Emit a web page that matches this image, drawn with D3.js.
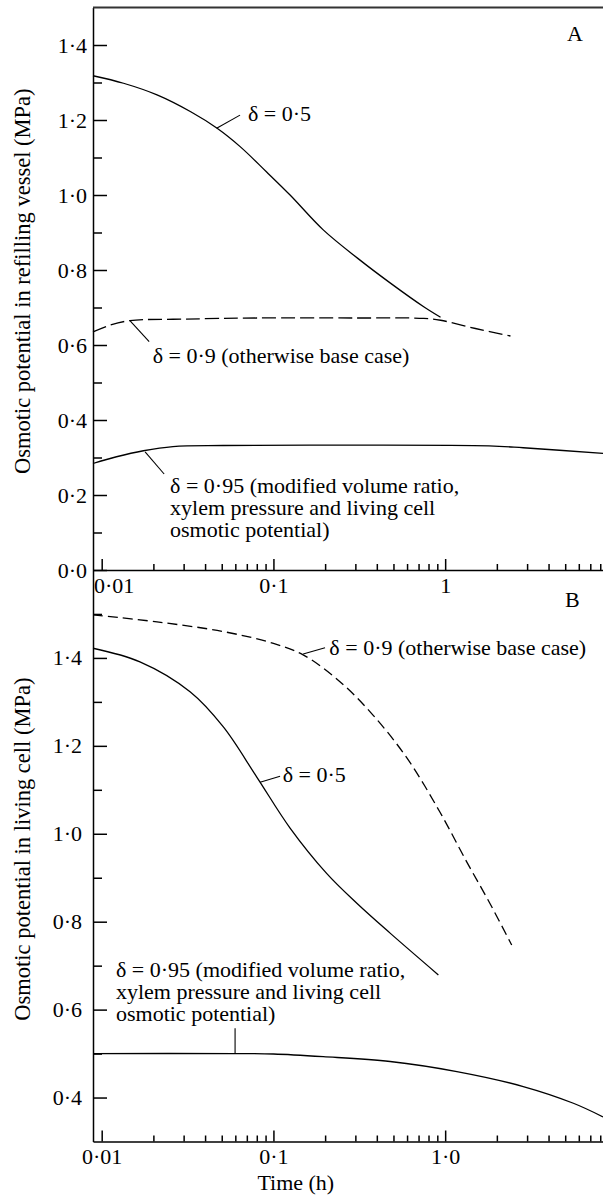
<!DOCTYPE html>
<html>
<head>
  <title>Osmotic potential vs time</title>
  <script src="https://d3js.org/d3.v7.min.js"></script>
  <style>
    body { margin: 0; background: #fff; }
    svg text { font-family: "Liberation Serif", Tinos, "Times New Roman", Times, "DejaVu Serif", serif !important; }
    .curve { fill: none; stroke: #000; stroke-width: 1.3px; }
    .lead { stroke: #000; stroke-width: 1.1px; }
    .axis text { font-size: 22px; fill: #000; }
    .axis line, .axis path { stroke: #000; stroke-width: 1.5px; }
    .note { font-size: 22px; fill: #000; }
    .title { font-size: 22.5px; fill: #000; }
  </style>
</head>
<body>
  <svg width="603" height="1199"></svg>

  <script>
    // panel A : osmotic potential in refilling vessel (MPa)
    const timeA05 = [0.0089, 0.0134, 0.021, 0.033, 0.047, 0.064, 0.091, 0.125, 0.195, 0.31, 0.48, 0.75, 0.94];
    const osmA05  = [1.318, 1.298, 1.267, 1.222, 1.178, 1.129, 1.062, 1.000, 0.907, 0.831, 0.765, 0.702, 0.674];
    const timeA09 = [0.0089, 0.0112, 0.0146, 0.03, 0.08, 0.3, 0.75, 0.94, 1.5, 2.4];
    const osmA09  = [0.635, 0.653, 0.665, 0.669, 0.672, 0.672, 0.671, 0.666, 0.644, 0.624];
    const timeA095 = [0.0089, 0.0122, 0.0175, 0.026, 0.051, 0.3, 1.8, 2.85, 8.3];
    const osmA095  = [0.284, 0.302, 0.318, 0.329, 0.332, 0.333, 0.331, 0.326, 0.311];

    // panel B : osmotic potential in living cell (MPa)
    const timeB09 = [0.0089, 0.021, 0.051, 0.1, 0.149, 0.244, 0.38, 0.6, 0.93, 1.34, 1.82, 2.44];
    const osmB09  = [1.498, 1.482, 1.460, 1.433, 1.407, 1.346, 1.270, 1.172, 1.050, 0.935, 0.842, 0.747];
    const timeB05 = [0.0089, 0.0167, 0.0327, 0.0511, 0.080, 0.125, 0.204, 0.306, 0.478, 0.913];
    const osmB05  = [1.422, 1.391, 1.323, 1.243, 1.129, 1.013, 0.910, 0.842, 0.774, 0.679];
    const timeB095 = [0.0089, 0.06, 0.1, 0.195, 0.478, 1.17, 2.85, 5.58, 8.3];
    const osmB095  = [0.500, 0.500, 0.499, 0.493, 0.482, 0.459, 0.425, 0.387, 0.356];

    // ticks
    const xMajor = [0.01, 0.1, 1];
    const xMinor = [0.02, 0.03, 0.04, 0.05, 0.06, 0.07, 0.08, 0.09,
                    0.2, 0.3, 0.4, 0.5, 0.6, 0.7, 0.8, 0.9,
                    2, 3, 4, 5, 6, 7, 8];
    const xLabelsA = ["0·01", "0·1", "1"];
    const xLabelsB = ["0·01", "0·1", "1·0"];
    const yMajorA = [0, 0.2, 0.4, 0.6, 0.8, 1.0, 1.2, 1.4];
    const yMinorA = [0.1, 0.3, 0.5, 0.7, 0.9, 1.1, 1.3];
    const yMajorB = [0.4, 0.6, 0.8, 1.0, 1.2, 1.4];
    const yMinorB = [0.5, 0.7, 0.9, 1.1, 1.3, 1.5];

    const svg = d3.select("svg");
    const left = 93, right = 603;

    const x = d3.scaleLog().domain([0.0089, 8.3]).range([left, right]);
    const yA = d3.scaleLinear().domain([0, 1.5]).range([570, 7.5]);
    const yB = d3.scaleLinear().domain([0.3, 1.6]).range([1141.5, 570]);

    const fmt = d => d.toFixed(1).replace(".", "·");
    const pairs = (t, v) => t.map((d, i) => [d, v[i]]);

    function panel(y, yMajor, yMinor, xLabels, pad) {
      const [y0] = y.range();
      svg.append("g").attr("class", "axis")
        .attr("transform", `translate(${left},0)`)
        .call(d3.axisLeft(y).tickValues(yMinor).tickSize(-9).tickFormat(""))
        .call(g => g.select(".domain").remove());
      svg.append("g").attr("class", "axis")
        .attr("transform", `translate(${left},0)`)
        .call(d3.axisLeft(y).tickValues(yMajor).tickSize(-14).tickSizeOuter(0)
          .tickPadding(pad).tickFormat(fmt));
      svg.append("g").attr("class", "axis")
        .attr("transform", `translate(0,${y0})`)
        .call(d3.axisBottom(x).tickValues(xMinor).tickSize(-6).tickFormat(""))
        .call(g => g.select(".domain").remove());
      return svg.append("g").attr("class", "axis")
        .attr("transform", `translate(0,${y0})`)
        .call(d3.axisBottom(x).tickValues(xMajor).tickSize(-11).tickSizeOuter(0)
          .tickPadding(7).tickFormat((d, i) => xLabels[i]));
    }

    const xaA = panel(yA, yMajorA, yMinorA, xLabelsA, 6);
    xaA.selectAll(".tick text").filter(d => d === 0.01).attr("dx", 12);
    panel(yB, yMajorB, yMinorB, xLabelsB, 11);

    // top border of panel A
    svg.append("line")
      .attr("x1", left).attr("x2", right)
      .attr("y1", yA(1.5)).attr("y2", yA(1.5))
      .attr("stroke", "#333").attr("stroke-width", 2);

    const curve = d3.curveCatmullRom.alpha(0.5);
    const lineA = d3.line().x(d => x(d[0])).y(d => yA(d[1])).curve(curve);
    const lineB = d3.line().x(d => x(d[0])).y(d => yB(d[1])).curve(curve);

    svg.append("path").datum(pairs(timeA05, osmA05)).attr("class", "curve").attr("d", lineA);
    svg.append("path").datum(pairs(timeA09, osmA09)).attr("class", "curve")
      .attr("stroke-dasharray", "14,5").attr("d", lineA);
    svg.append("path").datum(pairs(timeA095, osmA095)).attr("class", "curve").attr("d", lineA);

    svg.append("path").datum(pairs(timeB09, osmB09)).attr("class", "curve")
      .attr("stroke-dasharray", "10,5").attr("d", lineB);
    svg.append("path").datum(pairs(timeB05, osmB05)).attr("class", "curve").attr("d", lineB);
    svg.append("path").datum(pairs(timeB095, osmB095)).attr("class", "curve").attr("d", lineB);

    // annotations: leader [t0, v0, t1, v1], text start [t, v], lines
    const notes = [
      { y: yA, lead: [0.0467, 1.178, 0.0639, 1.213], at: [0.0711, 1.197], lines: ["δ = 0·5"] },
      { y: yA, lead: [0.0146, 0.665, 0.0189, 0.609], at: [0.0198, 0.551], lines: ["δ = 0·9 (otherwise base case)"] },
      { y: yA, lead: [0.0179, 0.315, 0.0231, 0.256], at: [0.025, 0.2045],
        lines: ["δ = 0·95 (modified volume ratio,", "xylem pressure and living cell", "osmotic potential)"] },
      { y: yB, lead: [0.149, 1.409, 0.1998, 1.423], at: [0.2117, 1.407], lines: ["δ = 0·9 (otherwise base case)"] },
      { y: yB, lead: [0.0836, 1.117, 0.1093, 1.131], at: [0.1133, 1.118], lines: ["δ = 0·5"] },
      { y: yB, lead: [0.0598, 0.5, 0.0598, 0.5575], at: [0.01211, 0.6735],
        lines: ["δ = 0·95 (modified volume ratio,", "xylem pressure and living cell", "osmotic potential)"] }
    ];

    notes.forEach(n => {
      svg.append("line").attr("class", "lead")
        .attr("x1", x(n.lead[0])).attr("y1", n.y(n.lead[1]))
        .attr("x2", x(n.lead[2])).attr("y2", n.y(n.lead[3]));
      const t = svg.append("text").attr("class", "note")
        .attr("x", x(n.at[0])).attr("y", n.y(n.at[1]));
      n.lines.forEach((s, i) => {
        t.append("tspan").attr("x", x(n.at[0])).attr("dy", i ? 22 : 0).text(s);
      });
    });

    // panel letters
    svg.append("text").attr("class", "note").attr("text-anchor", "middle")
      .attr("x", x(5.7)).attr("y", yA(1.411)).text("A");
    svg.append("text").attr("class", "note").attr("text-anchor", "middle")
      .attr("x", x(5.5)).attr("y", yB(1.516)).text("B");

    // axis titles
    svg.append("text").attr("class", "title").attr("text-anchor", "middle")
      .attr("transform", `translate(30,${yA(0.77)}) rotate(-90)`)
      .text("Osmotic potential in refilling vessel (MPa)");
    svg.append("text").attr("class", "title").attr("text-anchor", "middle")
      .attr("transform", `translate(30,${yB(0.965)}) rotate(-90)`)
      .text("Osmotic potential in living cell (MPa)");
    svg.append("text").attr("class", "note").attr("text-anchor", "middle")
      .attr("x", x(0.135)).attr("y", 1190)
      .text("Time (h)");
  </script>
</body>
</html>
